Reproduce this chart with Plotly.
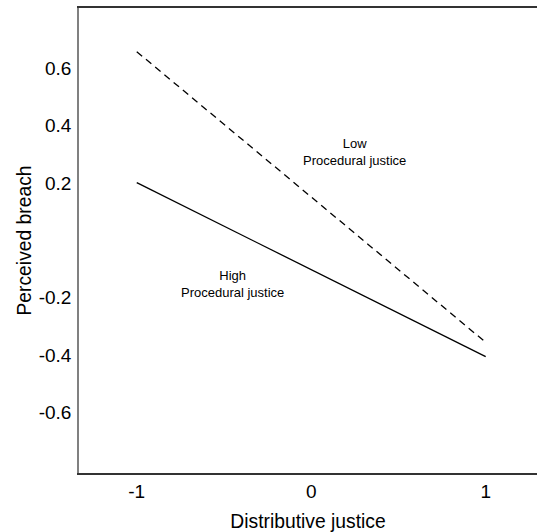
import plotly.graph_objects as go

x_vals = [-1, 1]
low_pj = [0.657, -0.355]
high_pj = [0.201, -0.405]
y_ticks = [0.6, 0.4, 0.2, -0.2, -0.4, -0.6]
y_tick_text = ["0.6", "0.4", "0.2", "-0.2", "-0.4", "-0.6"]
x_ticks = [-1, 0, 1]
x_tick_text = ["-1", "0", "1"]

FONT = "Liberation Sans, Arial, sans-serif"

fig = go.Figure()
fig.add_trace(go.Scatter(x=x_vals, y=low_pj, mode="lines",
                         line=dict(color="black", width=1.3, dash="7px,5px"),
                         showlegend=False, hoverinfo="skip"))
fig.add_trace(go.Scatter(x=x_vals, y=high_pj, mode="lines",
                         line=dict(color="black", width=1.3),
                         showlegend=False, hoverinfo="skip"))

fig.add_annotation(x=0.248, y=0.308, text="Low<br>Procedural justice",
                   showarrow=False, font=dict(family=FONT, size=13, color="black"))
fig.add_annotation(x=-0.454, y=-0.151, text="High<br>Procedural justice",
                   showarrow=False, font=dict(family=FONT, size=13, color="black"))

fig.update_layout(
    width=537, height=532,
    margin=dict(l=79, r=0, t=8, b=59, autoexpand=False),
    paper_bgcolor="white", plot_bgcolor="white",
    font=dict(family=FONT, color="black"),
    xaxis=dict(range=[-1.331, 1.294], tickvals=x_ticks, ticktext=x_tick_text,
               showgrid=False, zeroline=False, showline=True, linecolor="#333333",
               linewidth=1.5, mirror=True, ticks="", tickfont=dict(size=19),
               automargin=False,
               title=dict(text="Distributive justice", font=dict(size=19.3))),
    yaxis=dict(range=[-0.810, 0.809], tickvals=y_ticks, ticktext=y_tick_text,
               showgrid=False, zeroline=False, showline=True, linecolor="#808080",
               linewidth=1.5, ticks="", tickfont=dict(size=19), ticklabelstandoff=2,
               automargin=False,
               title=dict(text="Perceived breach", font=dict(size=19.3), standoff=2)),
)

fig.write_html(
    "out.html",
    config={"displayModeBar": False},
    post_script="document.body.style.margin='0';document.body.style.padding='0';"
                "document.body.style.overflow='hidden';",
)
